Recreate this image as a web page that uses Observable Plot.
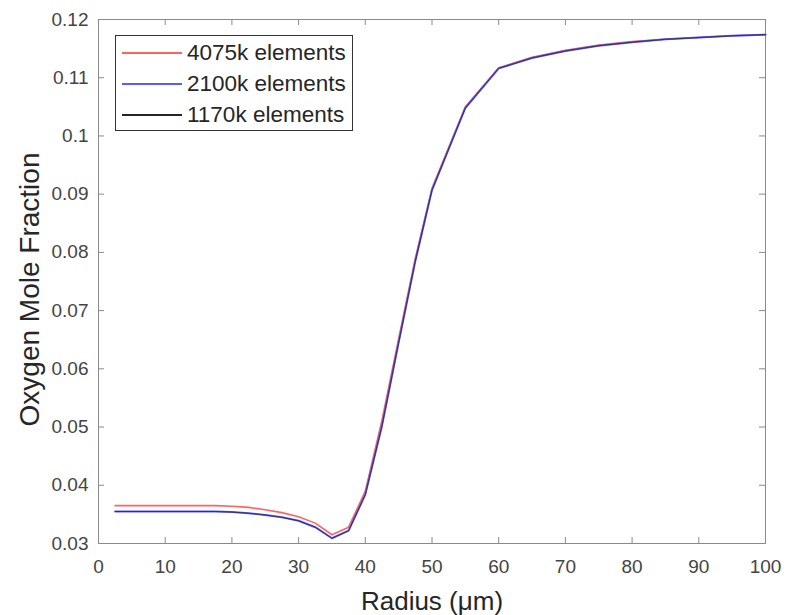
<!DOCTYPE html>
<html>
<head>
<meta charset="utf-8">
<script src="https://cdn.jsdelivr.net/npm/d3@7"></script>
<script src="https://cdn.jsdelivr.net/npm/@observablehq/plot@0.6"></script>
<style>
  html, body { margin: 0; padding: 0; background: #fff; }
  #wrap { position: relative; width: 786px; height: 615px; font-family: "Liberation Sans", Arial, sans-serif; }
  #legend { position: absolute; left: 115px; top: 35px; width: 238px; height: 96px; border: 1px solid #333; background: #fff; box-sizing: border-box; }
  .row { position: absolute; left: 0; height: 30px; display: flex; align-items: center; }
  .sw { width: 60px; height: 2px; margin-left: 6px; margin-right: 5px; }
  .lab { font-size: 22.5px; color: #262626; white-space: nowrap; }
</style>
</head>
<body>
<div id="wrap"></div>
<script>
const radius = [2.5, 5, 7.5, 10, 12.5, 15, 17.5, 20, 22.5, 25, 27.5, 30, 32.5, 35, 37.5, 40, 42.5, 45, 47.5, 50, 55, 60, 65, 70, 75, 80, 85, 90, 95, 100];
const o2_4075k = [0.0365, 0.0365, 0.0365, 0.0365, 0.0365, 0.0365, 0.0365, 0.0364, 0.0362, 0.0358, 0.0353, 0.0346, 0.0335, 0.0315, 0.0328, 0.0390, 0.0512, 0.0652, 0.0790, 0.0910, 0.1050, 0.1117, 0.1135, 0.1147, 0.1156, 0.1162, 0.1166, 0.1169, 0.1172, 0.1174];
const o2_2100k = [0.0355, 0.0355, 0.0355, 0.0355, 0.0355, 0.0355, 0.0355, 0.0354, 0.0352, 0.0349, 0.0345, 0.0339, 0.0328, 0.0309, 0.0322, 0.0384, 0.0502, 0.0645, 0.0785, 0.0907, 0.1048, 0.1116, 0.1134, 0.1146, 0.1155, 0.1161, 0.1166, 0.1169, 0.1172, 0.1174];
const o2_1170k = [0.0355, 0.0355, 0.0355, 0.0355, 0.0355, 0.0355, 0.0355, 0.0354, 0.0352, 0.0349, 0.0345, 0.0339, 0.0328, 0.0309, 0.0322, 0.0384, 0.0502, 0.0645, 0.0785, 0.0907, 0.1048, 0.1116, 0.1134, 0.1146, 0.1155, 0.1161, 0.1166, 0.1169, 0.1172, 0.1174];
const seriesNames = ["4075k elements", "2100k elements", "1170k elements"];
const seriesColors = ["#ff6262", "#5a5aff", "#262626"];
const xTicks = [0, 10, 20, 30, 40, 50, 60, 70, 80, 90, 100];
const yTicks = [0.03, 0.04, 0.05, 0.06, 0.07, 0.08, 0.09, 0.1, 0.11, 0.12];
const xDomain = [0, 100];
const yDomain = [0.03, 0.12];

const seriesValues = [o2_4075k, o2_2100k, o2_1170k];
const rows = [];
seriesValues.forEach((vals, s) => vals.forEach((v, i) => rows.push({r: radius[i], v, s: seriesNames[s]})));

const axisColor = "#8a8a8a";
const textColor = "#444444";

const plot = Plot.plot({
  width: 786,
  height: 615,
  marginLeft: 98,
  marginRight: 21,
  marginTop: 19,
  marginBottom: 72,
  style: {fontFamily: "'Liberation Sans', Arial, sans-serif", background: "#fff"},
  x: {domain: xDomain, axis: null},
  y: {domain: yDomain, axis: null},
  marks: [
    Plot.frame({stroke: axisColor, strokeWidth: 1}),
    Plot.ruleX(xTicks.slice(1, -1), {x: d => d, y1: yDomain[0], y2: yDomain[0], insetBottom: 6, stroke: axisColor}),
    Plot.ruleX(xTicks.slice(1, -1), {x: d => d, y1: yDomain[1], y2: yDomain[1], insetTop: 6, stroke: axisColor}),
    Plot.ruleY(yTicks.slice(1, -1), {y: d => d, x1: xDomain[0], x2: xDomain[0], insetLeft: 6, stroke: axisColor}),
    Plot.ruleY(yTicks.slice(1, -1), {y: d => d, x1: xDomain[1], x2: xDomain[1], insetRight: 6, stroke: axisColor}),
    Plot.axisX(xTicks, {anchor: "bottom", tickSize: 0, tickPadding: 16, fontSize: 19, fill: textColor, label: null, tickFormat: d => String(d)}),
    Plot.axisY(yTicks, {anchor: "left", tickSize: 0, tickPadding: 10, fontSize: 19, fill: textColor, label: null, tickFormat: d => String(d)}),
    Plot.text(["Radius (\u03bcm)"], {frameAnchor: "bottom", textAnchor: "middle", dy: 66, fontSize: 26, fill: "#262626", text: d => d}),
    Plot.text(["Oxygen Mole Fraction"], {frameAnchor: "left", textAnchor: "middle", dx: -68, dy: 8, rotate: -90, fontSize: 28, fill: "#262626", text: d => d}),
    Plot.line(rows.filter(d => d.s === seriesNames[0]), {x: "r", y: "v", stroke: seriesColors[0], strokeWidth: 1.6}),
    Plot.line(rows.filter(d => d.s === seriesNames[1]), {x: "r", y: "v", stroke: seriesColors[1], strokeWidth: 2}),
    Plot.line(rows.filter(d => d.s === seriesNames[2]), {x: "r", y: "v", stroke: seriesColors[2], strokeWidth: 1, strokeOpacity: 0.75})
  ]
});

const wrap = document.getElementById("wrap");
wrap.appendChild(plot);

const legend = document.createElement("div");
legend.id = "legend";
seriesNames.forEach((name, i) => {
  const row = document.createElement("div");
  row.className = "row";
  row.style.top = (2 + i * 31) + "px";
  const sw = document.createElement("div");
  sw.className = "sw";
  sw.style.background = seriesColors[i];
  const lab = document.createElement("span");
  lab.className = "lab";
  lab.textContent = name;
  row.appendChild(sw);
  row.appendChild(lab);
  legend.appendChild(row);
});
wrap.appendChild(legend);
</script>
</body>
</html>
